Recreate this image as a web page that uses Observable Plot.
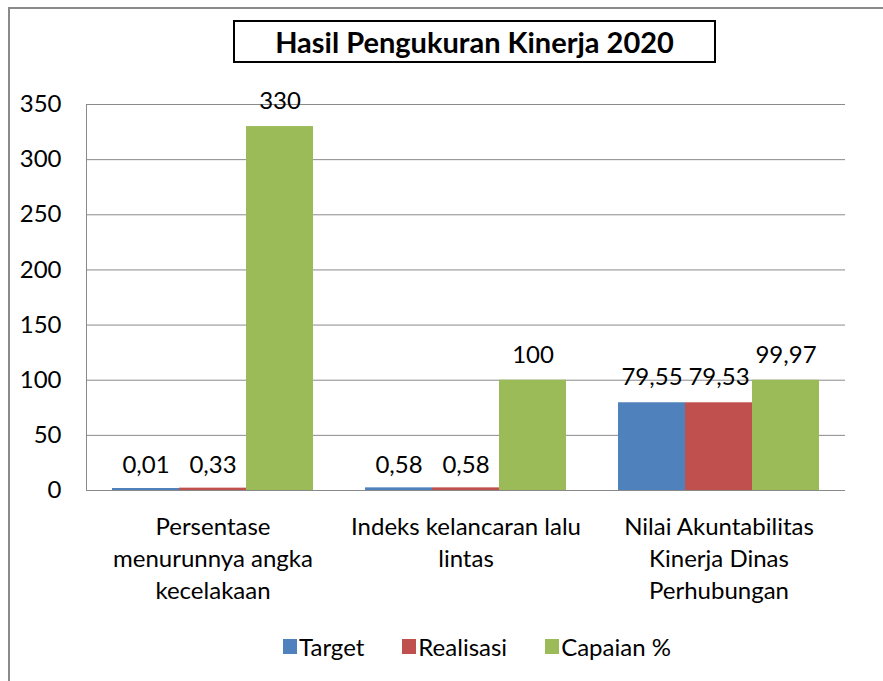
<!DOCTYPE html>
<html>
<head>
<meta charset="utf-8">
<script src="https://cdn.jsdelivr.net/npm/d3@7"></script>
<script src="https://cdn.jsdelivr.net/npm/@observablehq/plot@0.6"></script>
<style>
  html, body { margin: 0; padding: 0; background: #fff; overflow: hidden; }
  #wrap { position: relative; width: 883px; height: 681px; overflow: hidden; font-family: Lato, "Open Sans", sans-serif; color: #000; }
  #border { position: absolute; left: 8px; top: 7px; width: 920px; height: 720px; border: 2px solid #8a8a8a; box-sizing: border-box; }
  #title { position: absolute; left: 233px; top: 20px; width: 483px; height: 43px; border: 2px solid #000; box-sizing: border-box;
           display: flex; align-items: center; justify-content: center; font-weight: bold; font-size: 29px; }
  .layer { position: absolute; left: 0; top: 0; }
  #legend { position: absolute; left: 0; width: 954px; top: 632px; display: flex; justify-content: center; gap: 38px; font-size: 24px; }
  .item { display: flex; align-items: center; gap: 2px; }
  .sw { width: 14px; height: 15px; display: inline-block; }
</style>
</head>
<body>
<div id="wrap">
  <div id="border"></div>
  <div id="title">Hasil Pengukuran Kinerja 2020</div>
  <div id="bg" class="layer"></div>
  <div id="fg" class="layer"></div>
  <div id="legend"></div>
</div>
<script>
const categories = ["Persentase menurunnya angka kecelakaan", "Indeks kelancaran lalu lintas", "Nilai Akuntabilitas Kinerja Dinas Perhubungan"];
const categoryLines = ["Persentase\nmenurunnya angka\nkecelakaan", "Indeks kelancaran lalu\nlintas", "Nilai Akuntabilitas\nKinerja Dinas\nPerhubungan"];
const series = ["Target", "Realisasi", "Capaian %"];
const colors = ["#4F81BD", "#C0504D", "#9BBB59"];
const target = [0.01, 0.58, 79.55];
const realisasi = [0.33, 0.58, 79.53];
const capaian = [330, 100, 99.97];
const yTicks = [0, 50, 100, 150, 200, 250, 300, 350];

const seriesValues = [target, realisasi, capaian];
const data = [];
categories.forEach((c, i) => series.forEach((s, j) => data.push({category: c, series: s, value: seriesValues[j][i]})));
const fmt = v => String(v).replace(".", ",");

const W = 883, H = 681;
const M = {top: 104, right: 38, bottom: 191, left: 86};
const grid = "#8a8a8a";
const font = "Lato, 'Open Sans', sans-serif";

const bg = Plot.plot({
  width: W, height: H,
  marginTop: M.top, marginRight: M.right, marginBottom: M.bottom, marginLeft: M.left,
  style: {fontFamily: font, fontSize: "24px", color: "#000", background: "transparent"},
  y: {domain: [0, 350], ticks: yTicks},
  marks: [
    Plot.ruleY(yTicks, {stroke: grid, strokeWidth: 1}),
    Plot.frame({anchor: "left", stroke: grid}),
    Plot.axisY({ticks: yTicks, tickSize: 0, tickPadding: 25, fontSize: 24, label: null})
  ]
});
document.getElementById("bg").appendChild(bg);

const fg = Plot.plot({
  width: W, height: H,
  marginTop: M.top, marginRight: M.right, marginBottom: M.bottom, marginLeft: M.left,
  style: {fontFamily: font, fontSize: "24px", color: "#000", background: "transparent"},
  y: {domain: [0, 350], axis: null},
  fx: {domain: categories, padding: 0, label: null},
  x: {domain: series, paddingInner: 0, paddingOuter: 0.38, axis: null},
  color: {domain: series, range: colors},
  marks: [
    Plot.barY(data, {fx: "category", x: "series", y: "value", fill: "series"}),
    Plot.barY(data, {filter: d => d.value < 5, fx: "category", x: "series", y: "value", fill: "series", insetTop: -2}),
    Plot.text(data, {fx: "category", x: "series", y: "value", text: d => fmt(d.value), dy: -25, lineAnchor: "middle", fontSize: 24, fill: "#000"}),
    Plot.axisFx({anchor: "bottom", tickSize: 0, tickPadding: 22, fontSize: 24, lineHeight: 1.33, label: null,
                 tickFormat: d => categoryLines[categories.indexOf(d)]})
  ]
});
document.getElementById("fg").appendChild(fg);

const legend = document.getElementById("legend");
series.forEach((s, i) => {
  const it = document.createElement("div");
  it.className = "item";
  const sw = document.createElement("span");
  sw.className = "sw";
  sw.style.background = colors[i];
  const t = document.createElement("span");
  t.textContent = s;
  it.appendChild(sw); it.appendChild(t);
  legend.appendChild(it);
});
</script>
</body>
</html>
